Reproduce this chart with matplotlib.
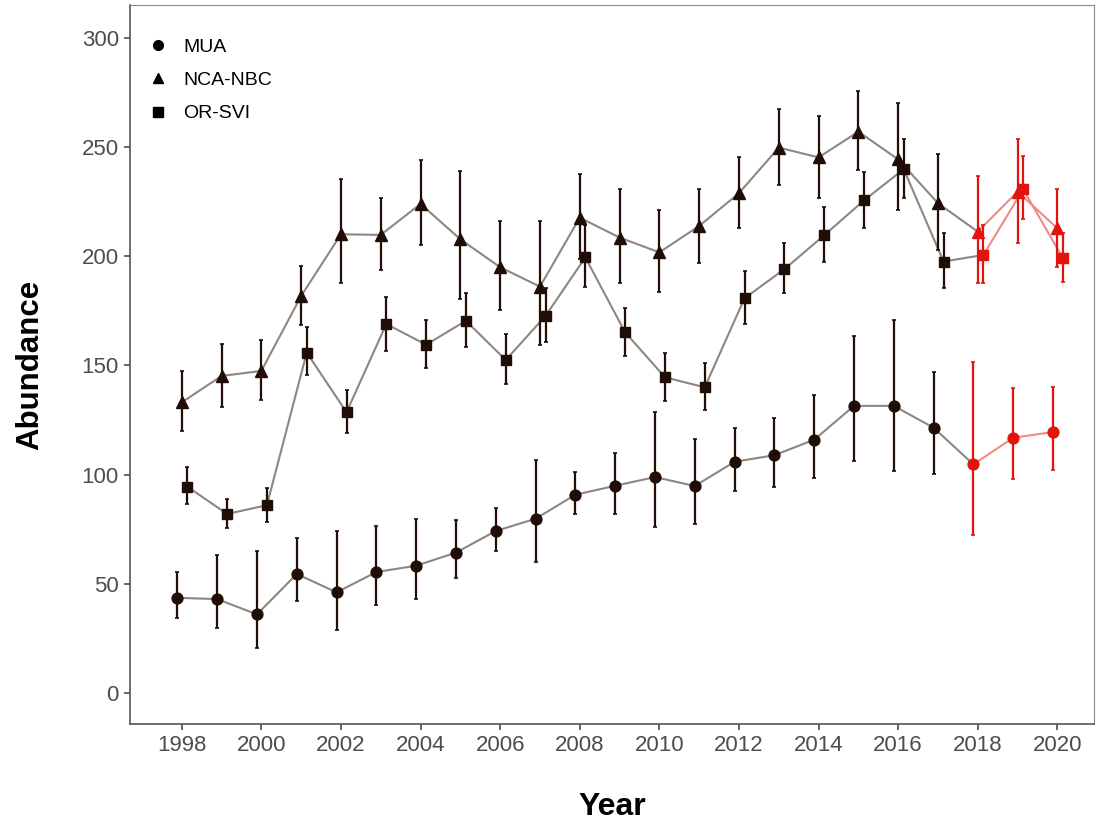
import matplotlib
matplotlib.use("Agg")
import matplotlib.pyplot as plt
from matplotlib.lines import Line2D

plt.rcParams['font.family'] = ['Liberation Sans', 'DejaVu Sans']

years = list(range(1998, 2021))
n_obs = 20  # 1998-2017 observed (dark), 2018-2020 predicted (red)

mua = [43.6, 43.0, 36.0, 54.5, 46.1, 55.4, 58.3, 64.3, 74.2, 79.8, 90.8, 94.9,
       98.9, 94.8, 105.9, 108.9, 116.0, 131.5, 131.5, 121.5, 104.7, 116.9, 119.5]
mua_hi = [55.6, 63.2, 65.0, 70.8, 74.3, 76.5, 79.7, 79.4, 84.7, 106.7, 101.1, 109.8,
          128.9, 116.5, 121.5, 125.8, 136.5, 163.4, 170.8, 147.2, 151.4, 139.6, 140.2]
mua_lo = [34.5, 29.6, 20.5, 42.3, 29.0, 40.3, 43.1, 52.5, 65.0, 59.8, 82.0, 82.0,
          76.2, 77.2, 92.5, 94.5, 98.6, 106.3, 101.7, 100.4, 72.4, 97.9, 102.1]

nca = [133.1, 145.2, 147.5, 181.8, 210.1, 209.8, 224.0, 207.8, 195.0, 186.1, 217.7, 208.6,
       201.8, 213.9, 228.9, 249.8, 245.3, 257.1, 244.4, 224.3, 211.3, 229.6, 212.8]
nca_hi = [147.3, 159.9, 161.8, 195.7, 235.3, 226.6, 244.1, 239.1, 216.3, 216.3, 237.9, 230.7,
          221.2, 231.0, 245.5, 267.6, 264.4, 275.7, 270.2, 247.0, 236.9, 253.7, 230.8]
nca_lo = [120.1, 131.1, 134.2, 168.5, 187.9, 193.7, 205.2, 180.5, 175.3, 159.2, 198.6, 187.9,
          183.5, 197.1, 213.0, 232.5, 226.9, 239.5, 221.2, 202.9, 187.9, 206.0, 195.3]

orsvi = [94.5, 82.0, 86.0, 155.9, 128.6, 169.0, 159.5, 170.5, 152.5, 172.7, 199.5, 165.2,
         144.6, 140.0, 180.8, 194.1, 209.6, 225.6, 239.9, 197.6, 200.6, 230.7, 199.1]
orsvi_hi = [103.3, 88.7, 94.0, 167.5, 138.8, 181.5, 170.7, 183.4, 164.3, 185.6, 214.2, 176.2,
            155.9, 151.3, 193.1, 206.0, 222.5, 238.8, 253.7, 210.5, 214.4, 246.0, 210.5]
orsvi_lo = [86.4, 75.7, 78.5, 145.6, 119.2, 156.8, 149.0, 158.5, 141.5, 160.6, 186.1, 154.5,
            133.9, 129.6, 169.2, 183.1, 197.4, 213.0, 226.6, 185.4, 187.9, 217.0, 188.4]

series_names = ['MUA', 'NCA-NBC', 'OR-SVI']
x_ticks = list(range(1998, 2021, 2))
y_ticks = [0, 50, 100, 150, 200, 250, 300]

dark = '#200D05'
dark_line = '#8F8682'
red = '#E2140C'
red_line = '#EF8A84'

fig = plt.figure(figsize=(11.04, 8.26), dpi=100)
ax = fig.add_axes([130/1104, 102/826, 964/1104, 719/826])

specs = [
    (mua, mua_lo, mua_hi, 'o', 7.8, -0.11),
    (nca, nca_lo, nca_hi, '^', 8.6, 0.0),
    (orsvi, orsvi_lo, orsvi_hi, 's', 7.2, 0.14),
]

for vals, lo, hi, mk, ms, off in specs:
    xs = [y + off for y in years]
    ax.plot(xs[:n_obs + 1], vals[:n_obs + 1], color=dark_line, lw=1.5, zorder=2)
    ax.plot(xs[n_obs:], vals[n_obs:], color=red_line, lw=1.5, zorder=2)
    for i, (x, v, l, h) in enumerate(zip(xs, vals, lo, hi)):
        c = dark if i < n_obs else red
        ax.errorbar([x], [v], yerr=[[v - l], [h - v]], fmt='none', ecolor=c,
                    elinewidth=1.6, capsize=1.5, capthick=1.2, zorder=3)
        ax.plot([x], [v], marker=mk, ms=ms, color=c, mec=c, ls='none', zorder=4)

ax.set_xlim(1996.70, 2020.92)
ax.set_ylim(-14.2, 315.1)
ax.set_xticks(x_ticks)
ax.set_yticks(y_ticks)
ax.tick_params(axis='both', labelsize=16, colors='#4D4D4D', length=4, width=1.2,
               direction='out', pad=4)

for s in ['left', 'bottom']:
    ax.spines[s].set_color('#555555')
    ax.spines[s].set_linewidth(1.2)
for s in ['top', 'right']:
    ax.spines[s].set_color('#888888')
    ax.spines[s].set_linewidth(0.8)

ax.set_xlabel('Year', fontsize=23, fontweight='bold', labelpad=26)
ax.set_ylabel('Abundance', fontsize=22.5, fontweight='bold', labelpad=26)

handles = [
    Line2D([], [], marker='o', color='black', ls='none', ms=7),
    Line2D([], [], marker='^', color='black', ls='none', ms=7.5),
    Line2D([], [], marker='s', color='black', ls='none', ms=6.5),
]
leg = ax.legend(handles, series_names, loc='upper left', frameon=False, fontsize=14,
                bbox_to_anchor=(-0.006, 0.9805), handletextpad=0.55, labelspacing=0.8,
                borderaxespad=0.6, handlelength=1.5)

fig.savefig('out.png', dpi=100)
